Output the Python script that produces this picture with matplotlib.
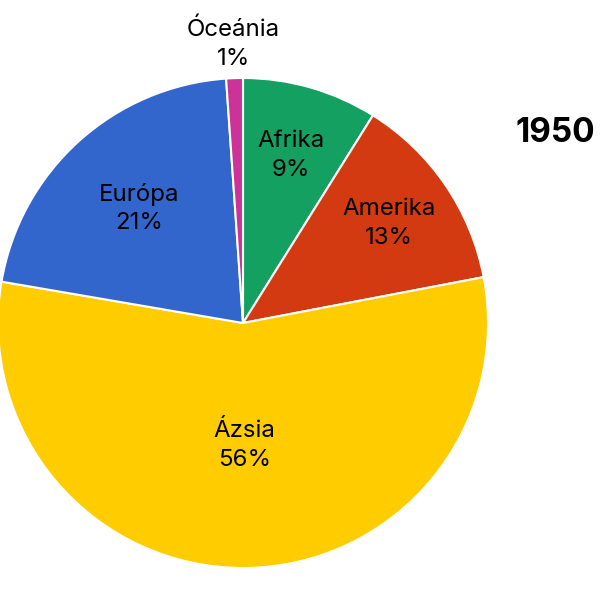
import numpy as np
import matplotlib

matplotlib.use("Agg")
import matplotlib.pyplot as plt

plt.rcParams["font.family"] = ["Inter", "DejaVu Sans"]

# population share by continent, 1950 (clockwise from top)
regions = ["Afrika", "Amerika", "Ázsia", "Európa", "Óceánia"]
shares = [8.9, 13.1, 55.7, 21.2, 1.1]
pct_labels = ["9%", "13%", "56%", "21%", "1%"]
colors = ["#13a061", "#d43a12", "#ffcc00", "#3366cc", "#cc3399"]
# how far out each label sits, as a fraction of the radius
label_r = [0.71, 0.72, 0.50, 0.63, 1.14]

CX, CY, R = 243, 600 - 323, 245

fig = plt.figure(figsize=(6, 6), dpi=100)
ax = fig.add_axes([0, 0, 1, 1])

ax.pie(shares, colors=colors, startangle=90, counterclock=False,
       center=(CX, CY), radius=R, frame=True,
       wedgeprops=dict(edgecolor="white", linewidth=1.5))
ax.set_xlim(0, 600)
ax.set_ylim(0, 600)
ax.set_aspect("equal")
ax.axis("off")

total = sum(shares)
cum = 0.0
for name, v, pct, f in zip(regions, shares, pct_labels, label_r):
    mid = cum + v / 2
    cum += v
    theta = np.deg2rad(90 - 360 * mid / total)
    x = CX + R * f * np.cos(theta)
    y = CY + R * f * np.sin(theta)
    ax.text(x, y, f"{name}\n{pct}", ha="center", va="center",
            fontsize=17.3, linespacing=1.4, color="#000000")

ax.text(555, 600 - 133, "1950", ha="center", va="center",
        fontsize=24, fontweight="bold", color="#000000")

fig.savefig("out.png", dpi=100, facecolor="white")
